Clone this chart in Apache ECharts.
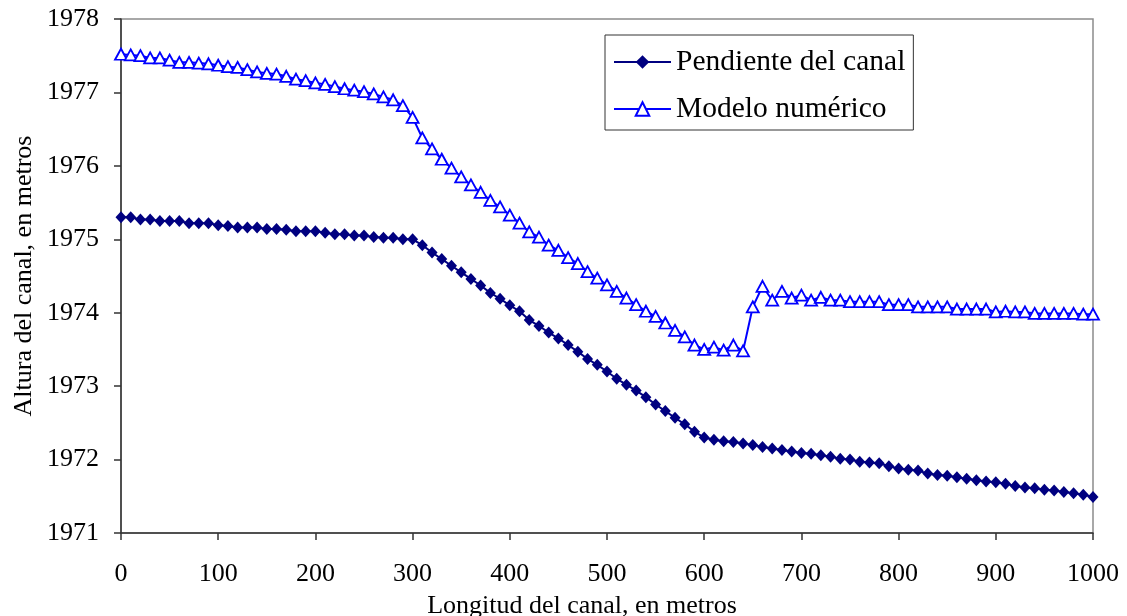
<!DOCTYPE html>
<html>
<head>
<meta charset="utf-8">
<script src="https://cdn.jsdelivr.net/npm/echarts@6/dist/echarts.min.js"></script>
<style>
  html, body { margin: 0; padding: 0; background: #fff; }
  #line { width: 1127px; height: 616px; }
</style>
</head>
<body>
<div id="line"></div>
<script>
// distancia a lo largo del canal (m)
let distancias = [
  0, 10, 20, 30, 40, 50, 60, 70, 80, 90,
  100, 110, 120, 130, 140, 150, 160, 170, 180, 190,
  200, 210, 220, 230, 240, 250, 260, 270, 280, 290,
  300, 310, 320, 330, 340, 350, 360, 370, 380, 390,
  400, 410, 420, 430, 440, 450, 460, 470, 480, 490,
  500, 510, 520, 530, 540, 550, 560, 570, 580, 590,
  600, 610, 620, 630, 640, 650, 660, 670, 680, 690,
  700, 710, 720, 730, 740, 750, 760, 770, 780, 790,
  800, 810, 820, 830, 840, 850, 860, 870, 880, 890,
  900, 910, 920, 930, 940, 950, 960, 970, 980, 990,
  1000
];

let pendiente = [
  1975.30, 1975.30, 1975.27, 1975.27, 1975.25, 1975.25, 1975.25, 1975.22, 1975.22, 1975.22,
  1975.19, 1975.18, 1975.16, 1975.16, 1975.16, 1975.14, 1975.14, 1975.13, 1975.11, 1975.11,
  1975.11, 1975.09, 1975.07, 1975.07, 1975.05, 1975.05, 1975.03, 1975.02, 1975.02, 1975.00,
  1975.00, 1974.92, 1974.82, 1974.73, 1974.64, 1974.55, 1974.46, 1974.37, 1974.27, 1974.19,
  1974.10, 1974.02, 1973.90, 1973.82, 1973.73, 1973.65, 1973.56, 1973.47, 1973.37, 1973.29,
  1973.20, 1973.10, 1973.02, 1972.94, 1972.85, 1972.75, 1972.66, 1972.57, 1972.48, 1972.38,
  1972.30, 1972.27, 1972.25, 1972.24, 1972.22, 1972.20, 1972.17, 1972.15, 1972.13, 1972.11,
  1972.09, 1972.08, 1972.06, 1972.04, 1972.01, 1972.00, 1971.97, 1971.96, 1971.95, 1971.91,
  1971.88, 1971.86, 1971.85, 1971.81, 1971.79, 1971.78, 1971.76, 1971.74, 1971.72, 1971.70,
  1971.69, 1971.67, 1971.64, 1971.62, 1971.61, 1971.59, 1971.58, 1971.56, 1971.54, 1971.52,
  1971.49
];

let modelo = [
  1977.52, 1977.51, 1977.50, 1977.47, 1977.47, 1977.44, 1977.41, 1977.41, 1977.40, 1977.39,
  1977.37, 1977.35, 1977.34, 1977.31, 1977.28, 1977.26, 1977.25, 1977.22, 1977.18, 1977.16,
  1977.13, 1977.11, 1977.08, 1977.05, 1977.03, 1977.01, 1976.98, 1976.94, 1976.90, 1976.82,
  1976.66, 1976.38, 1976.23, 1976.09, 1975.97, 1975.85, 1975.74, 1975.64, 1975.53, 1975.44,
  1975.33, 1975.22, 1975.10, 1975.03, 1974.92, 1974.85, 1974.75, 1974.67, 1974.56, 1974.47,
  1974.38, 1974.29, 1974.20, 1974.11, 1974.02, 1973.95, 1973.86, 1973.76, 1973.67, 1973.56,
  1973.50, 1973.53, 1973.49, 1973.56, 1973.48, 1974.08, 1974.36, 1974.17, 1974.29, 1974.20,
  1974.24, 1974.17, 1974.21, 1974.17, 1974.17, 1974.15, 1974.15, 1974.15, 1974.15, 1974.11,
  1974.11, 1974.11, 1974.08, 1974.08, 1974.08, 1974.08, 1974.05, 1974.05, 1974.05, 1974.05,
  1974.01, 1974.02, 1974.01, 1974.01, 1973.99, 1973.99, 1973.99, 1973.99, 1973.99, 1973.98,
  1973.98
];

let xTicks = [0, 100, 200, 300, 400, 500, 600, 700, 800, 900, 1000];
let yTicks = [1971, 1972, 1973, 1974, 1975, 1976, 1977, 1978];

let fuente = "'Liberation Serif', 'Times New Roman', serif";

function pares(xs, ys) {
  return xs.map(function (x, i) { return [x, ys[i]]; });
}

let chartDom = document.getElementById('line');
let myChart = echarts.init(chartDom);
let option;

option = {
  animation: false,
  backgroundColor: '#fff',
  grid: {
    left: 121, right: 34, top: 19, bottom: 83,
    show: true,
    borderColor: '#8c8c8c',
    borderWidth: 1.5
  },
  legend: {
    left: 605,
    top: 35,
    orient: 'vertical',
    padding: [12, 8, 6, 8],
    itemGap: 17,
    itemWidth: 57,
    itemHeight: 17,
    backgroundColor: '#fff',
    borderColor: '#333',
    borderWidth: 1,
    borderRadius: 0,
    textStyle: { fontFamily: fuente, fontSize: 29.5, color: '#000' },
    data: ['Pendiente del canal', 'Modelo numérico']
  },
  xAxis: {
    type: 'value',
    min: xTicks[0],
    max: xTicks[xTicks.length - 1],
    interval: 100,
    splitLine: { show: false },
    axisLine: { onZero: false, lineStyle: { color: '#333', width: 1.5 } },
    axisTick: { length: 7, lineStyle: { color: '#333', width: 1.5 } },
    axisLabel: {
      margin: 28, fontFamily: fuente, fontSize: 26, color: '#000',
      formatter: function (v) { return String(v); }
    }
  },
  yAxis: {
    type: 'value',
    min: yTicks[0],
    max: yTicks[yTicks.length - 1],
    interval: 1,
    splitLine: { show: false },
    axisLine: { show: true, onZero: false, lineStyle: { color: '#333', width: 1.5 } },
    axisTick: { show: true, length: 7, lineStyle: { color: '#333', width: 1.5 } },
    axisLabel: {
      margin: 22, fontFamily: fuente, fontSize: 26, color: '#000',
      formatter: function (v) { return String(v); }
    }
  },
  graphic: [
    {
      type: 'text',
      x: 582, y: 606,
      style: {
        text: 'Longitud del canal, en metros',
        font: '26px ' + fuente,
        fill: '#000',
        align: 'center',
        verticalAlign: 'middle'
      }
    },
    {
      type: 'text',
      x: 24, y: 276,
      rotation: Math.PI / 2,
      style: {
        text: 'Altura del canal, en metros',
        font: '26px ' + fuente,
        fill: '#000',
        align: 'center',
        verticalAlign: 'middle'
      }
    }
  ],
  series: [
    {
      name: 'Pendiente del canal',
      type: 'line',
      data: pares(distancias, pendiente),
      symbol: 'diamond',
      symbolSize: [11, 12],
      lineStyle: { color: '#000080', width: 2 },
      itemStyle: { color: '#000080' }
    },
    {
      name: 'Modelo numérico',
      type: 'line',
      data: pares(distancias, modelo),
      symbol: 'triangle',
      symbolSize: [12, 11],
      lineStyle: { color: '#0000ff', width: 2 },
      itemStyle: { color: '#fff', borderColor: '#0000ff', borderWidth: 1.8 }
    }
  ]
};

option && myChart.setOption(option);
</script>
</body>
</html>
